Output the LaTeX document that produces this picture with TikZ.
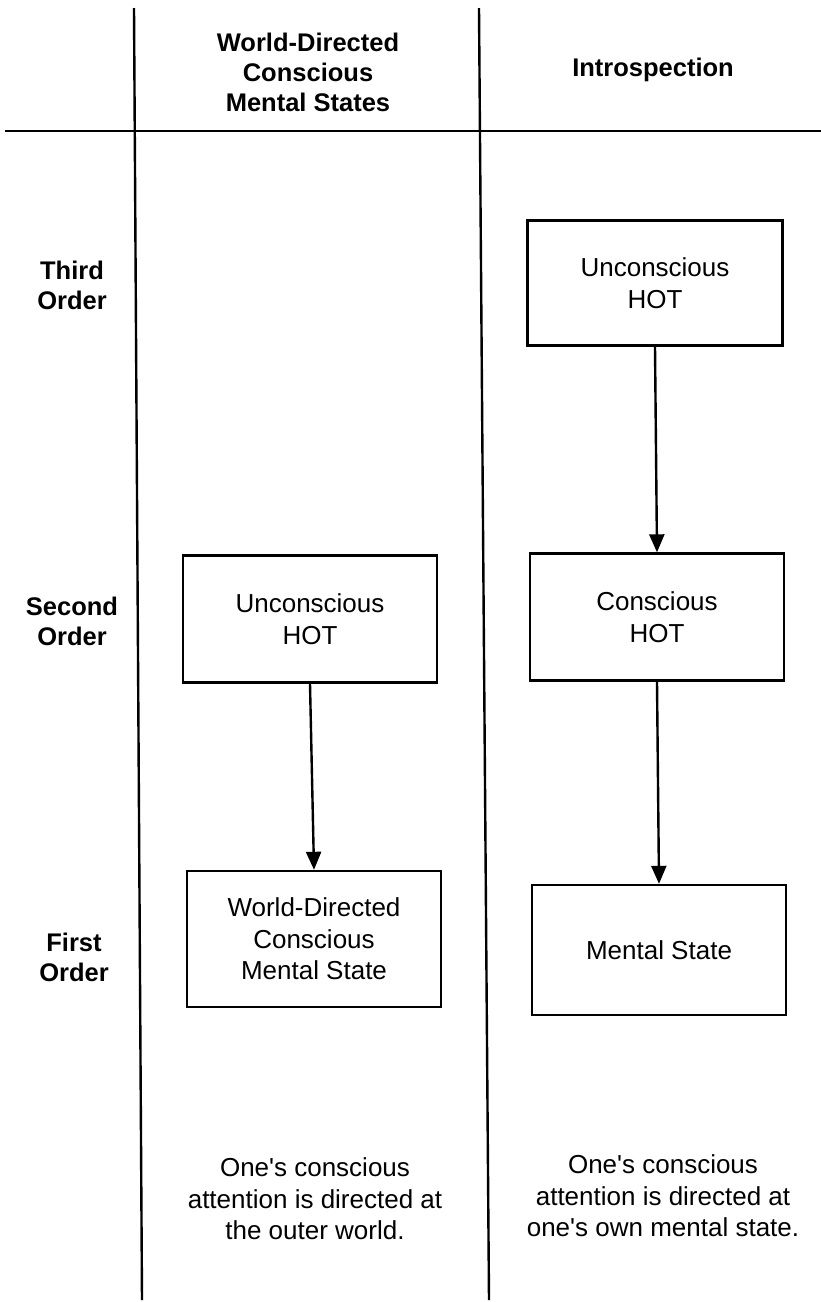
\documentclass[tikz,border=0pt]{standalone}
\usepackage{fontspec}
\newfontfamily\hv{Liberation Sans}
\usetikzlibrary{arrows.meta}
\begin{document}
\begin{tikzpicture}[x=1pt,y=-1pt,
  txt/.style={align=center,font=\hv\fontsize{26}{31.5}\selectfont,inner sep=0pt},
  hdr/.style={align=center,font=\hv\fontsize{25.5}{30}\selectfont\bfseries,inner sep=0pt},
  box/.style={draw,line width=2.4pt,minimum width=254pt,align=center,font=\hv\fontsize{26}{31.5}\selectfont,inner sep=0pt},
  arr/.style={line width=2.4pt,-{Triangle[length=18pt,width=15pt]}},
  rule/.style={line width=2.4pt}]
\useasboundingbox (0,0) rectangle (821,1302);
% grid lines
\coordinate (v1t) at (134,8); \coordinate (v1b) at (142,1300);
\coordinate (v2t) at (479,8); \coordinate (v2b) at (489,1300);
\coordinate (hl) at (5,131); \coordinate (hr) at (821,131);
\draw[rule] (v1t) -- (v1b);
\draw[rule] (v2t) -- (v2b);
\draw[rule] (hl) -- (hr);
% headers
\node[hdr] (h1) at (308,72) {World-Directed\\Conscious\\Mental States};
\node[hdr] (h2) at (653,70) {Introspection};
% row labels
\node[hdr] (r3) at (72,285) {Third\\Order};
\node[hdr] (r2) at (72,621) {Second\\Order};
\node[hdr] (r1) at (74,957) {First\\Order};
% boxes
\node[box,minimum width=255pt,minimum height=125pt] (b3r) at (655,283) {Unconscious\\HOT};
\node[box,minimum height=127pt] (b2r) at (657,617) {Conscious\\HOT};
\node[box,minimum height=130pt] (b1r) at (659,950) {Mental State};
\node[box,minimum height=127pt] (b2l) at (310,619) {Unconscious\\HOT};
\node[box,minimum height=136pt] (b1l) at (314,939) {World-Directed\\Conscious\\Mental State};
% arrows
\draw[arr] (b2l.south) -- (b1l.north);
\draw[arr] (b3r.south) -- (b2r.north);
\draw[arr] (b2r.south) -- (b1r.north);
% bottom texts
\node[txt] (t1) at (315,1199) {One's conscious\\attention is directed at\\the outer world.};
\node[txt] (t2) at (663,1196) {One's conscious\\attention is directed at\\one's own mental state.};
\end{tikzpicture}
\end{document}
